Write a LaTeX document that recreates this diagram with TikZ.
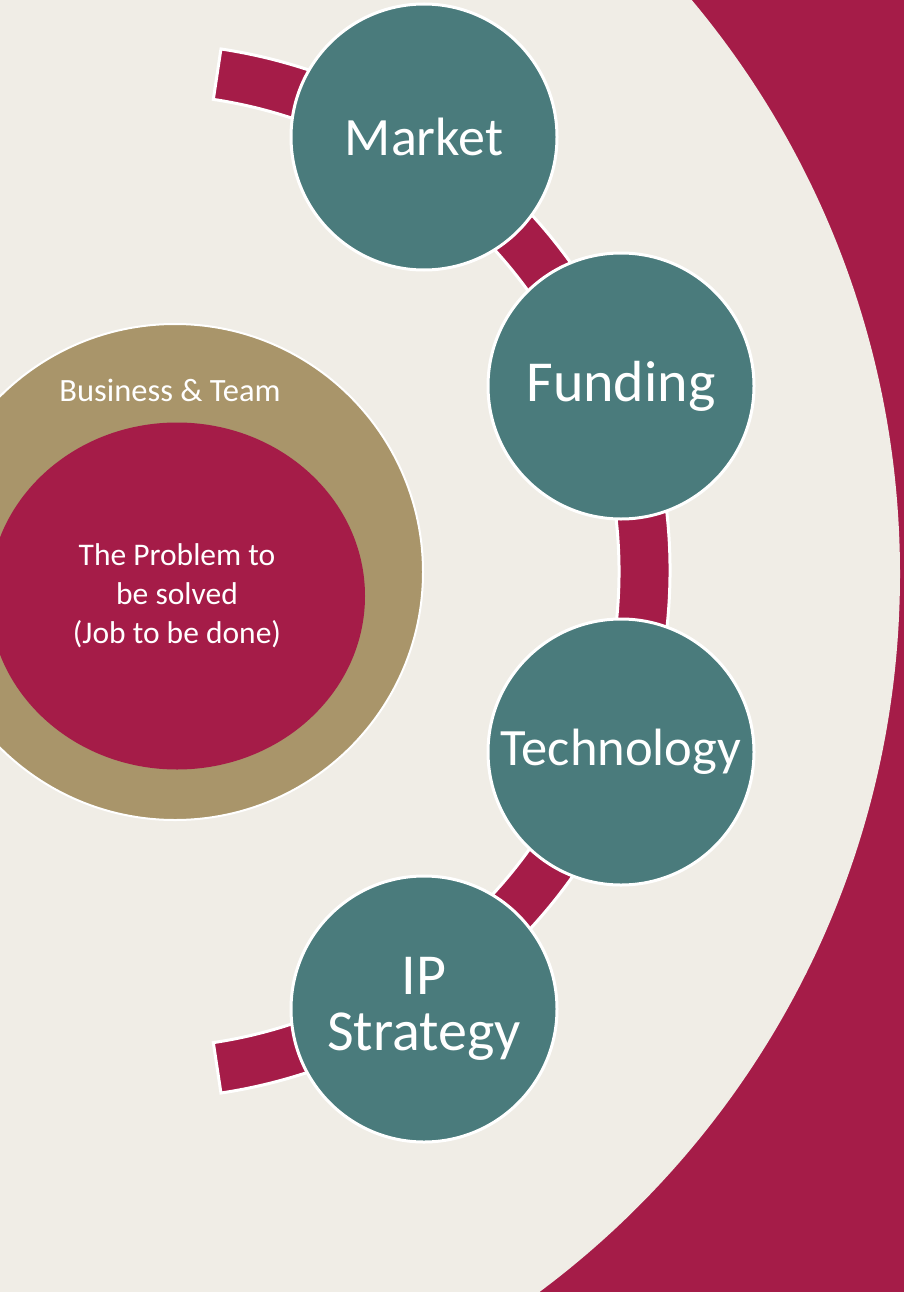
\documentclass[tikz,border=0pt]{standalone}
\usepackage{fontspec}
\setmainfont{Carlito}
\usetikzlibrary{shapes.geometric}
\usetikzlibrary{calc}
\definecolor{crimson}{RGB}{165,28,72}
\definecolor{stageteal}{RGB}{74,123,124}
\definecolor{sand}{RGB}{240,237,230}
\definecolor{gold}{RGB}{169,149,106}
\tikzset{
    stage/.style = {circle, draw=white, line width=3pt, fill=stageteal, minimum size=266pt, inner sep=0pt, align=center, text=white, font=\fontsize{54}{54}\selectfont},
    bigstage/.style = {stage, font=\fontsize{58}{56}\selectfont},
    widestage/.style = {stage, font=\fontsize{52.5}{54}\selectfont},
    ringband/.style = {fill=crimson, draw=white, line width=3pt},
    outerring/.style = {circle, draw=white, line width=2pt, fill=gold, minimum size=496pt, inner sep=0pt},
    problem/.style = {ellipse, fill=crimson, minimum width=376pt, minimum height=347pt, inner sep=0pt, align=center, text=white, font=\fontsize{31.5}{39}\selectfont},
    smalltext/.style = {text=white, align=center, font=\fontsize{32.5}{39}\selectfont}
}
\begin{document}
\begin{tikzpicture}[x=1pt, y=-1pt]
%
\clip (0,0) rectangle (904,1292);
\fill[crimson] (0,0) rectangle (904,1292);
\fill[sand] (5,574) circle[radius=895];
%
\node[outerring] (business) at (175,572) {};
\node[problem] (problem) at (177,596) {The Problem to\\be solved\\(Job to be done)};
\node[smalltext] (team) at (170,390) {Business \& Team};
%
\coordinate (ring) at (142,571);
\path[ringband] ($(ring)+(-81.4:528)$) arc[start angle=-81.4, end angle=81.4, radius=528]
    -- ($(ring)+(81.4:477)$) arc[start angle=81.4, end angle=-81.4, radius=477] -- cycle;
%
\node[stage] (market) at (424,137) {Market};
\node[bigstage] (funding) at (621,386) {Funding};
\node[widestage] (technology) at (621,752) {Technology};
\node[bigstage] (ipstrategy) at (424,1009) {IP\\Strategy};
\end{tikzpicture}
\end{document}
